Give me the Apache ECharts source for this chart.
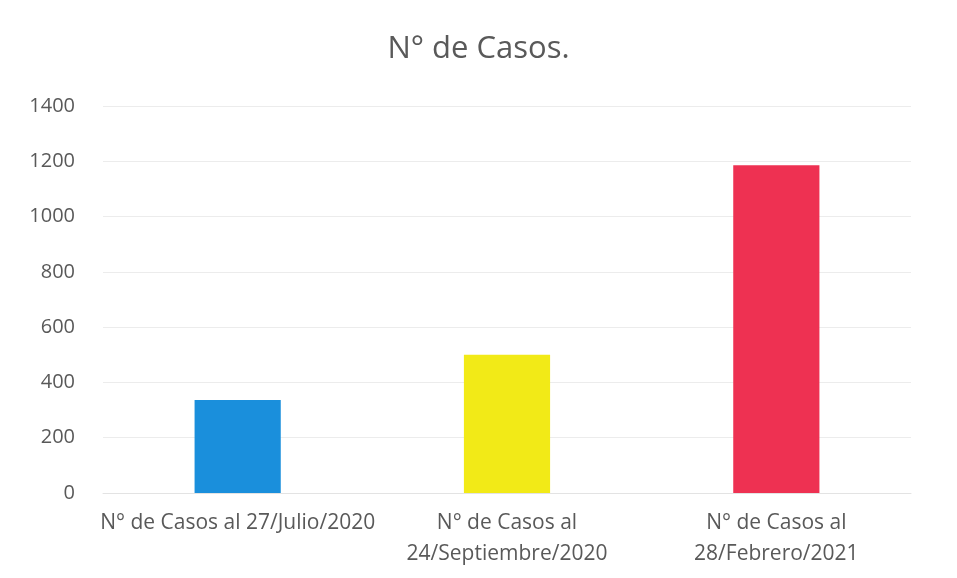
<!DOCTYPE html>
<html>
<head>
<meta charset="utf-8">
<script src="https://cdn.jsdelivr.net/npm/echarts@6/dist/echarts.min.js"></script>
<style>
  html, body { margin: 0; padding: 0; background: #fff; }
  #chart { width: 957px; height: 578px; }
</style>
</head>
<body>
<div id="chart"></div>
<script>
var categories = ['N° de Casos al 27/Julio/2020', 'N° de Casos al\n24/Septiembre/2020', 'N° de Casos al\n28/Febrero/2021'];
var casos = [336, 500, 1186];
var barColors = ['#1a8fdc', '#f2ea17', '#ee3152'];

var myChart = echarts.init(document.getElementById('chart'));

var option = {
    backgroundColor: '#ffffff',
    textStyle: { fontFamily: '"Open Sans", sans-serif' },
    title: {
        text: 'N° de Casos.',
        left: 'center',
        top: 29,
        textStyle: { color: '#595959', fontSize: 31, fontWeight: 'normal', fontFamily: '"Open Sans", sans-serif' }
    },
    grid: { left: 103, right: 46, top: 106, bottom: 85 },
    xAxis: {
        type: 'category',
        data: categories,
        axisLine: { lineStyle: { color: '#e3e3e3' } },
        axisTick: { show: false },
        axisLabel: { color: '#595959', fontSize: 21, margin: 15, lineHeight: 31, interval: 0 }
    },
    yAxis: {
        type: 'value',
        min: 0,
        max: 1400,
        interval: 200,
        axisLine: { show: false },
        axisTick: { show: false },
        splitLine: { lineStyle: { color: '#ececec' } },
        axisLabel: { color: '#595959', fontSize: 20, margin: 28, formatter: function (v) { return String(v); } }
    },
    series: [{
        type: 'bar',
        barWidth: '32%',
        data: casos.map(function (v, i) {
            return { value: v, itemStyle: { color: barColors[i] } };
        })
    }]
};

myChart.setOption(option);
</script>
</body>
</html>
